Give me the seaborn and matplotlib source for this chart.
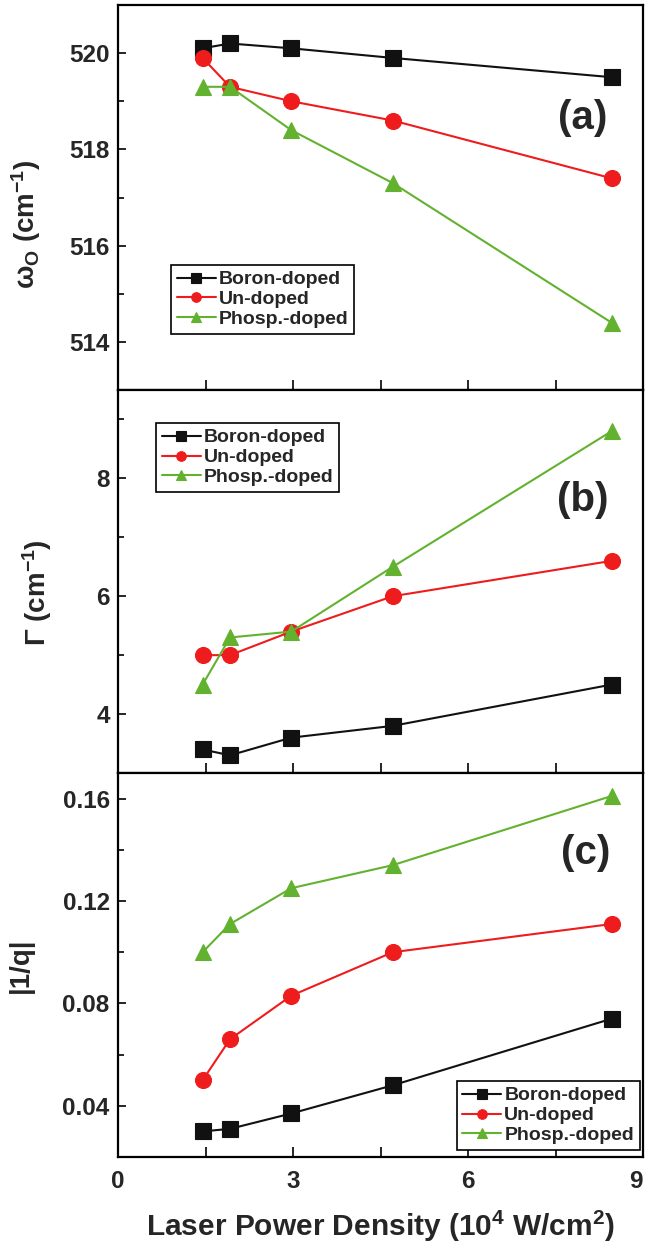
import numpy as np
import pandas as pd
import matplotlib
matplotlib.use("Agg")
import matplotlib.pyplot as plt
from matplotlib.ticker import MultipleLocator, FormatStrFormatter
import seaborn as sns

# ---------------- data ----------------
power = [1.45, 1.92, 2.97, 4.71, 8.46]
series = ["Boron-doped", "Un-doped", "Phosp.-doped"]

omega_boron = [520.1, 520.2, 520.1, 519.9, 519.5]
omega_un = [519.9, 519.3, 519.0, 518.6, 517.4]
omega_phos = [519.3, 519.3, 518.4, 517.3, 514.4]

gamma_boron = [3.4, 3.3, 3.6, 3.8, 4.5]
gamma_un = [5.0, 5.0, 5.4, 6.0, 6.6]
gamma_phos = [4.5, 5.3, 5.4, 6.5, 8.8]

invq_boron = [0.030, 0.031, 0.037, 0.048, 0.074]
invq_un = [0.050, 0.066, 0.083, 0.100, 0.111]
invq_phos = [0.100, 0.111, 0.125, 0.134, 0.161]

x_ticks = [0, 3, 6, 9]

# ---------------- style ----------------
sns.set_style("ticks")
plt.rcParams["font.family"] = ["Liberation Sans", "DejaVu Sans"]
plt.rcParams["font.weight"] = "bold"
plt.rcParams["mathtext.fontset"] = "custom"
plt.rcParams["mathtext.rm"] = "Liberation Sans:bold"
plt.rcParams["mathtext.it"] = "Liberation Sans:bold"
plt.rcParams["mathtext.bf"] = "Liberation Sans:bold"
plt.rcParams["axes.linewidth"] = 1.6

colors = {"Boron-doped": "#111111", "Un-doped": "#ee1c1c", "Phosp.-doped": "#63b22f"}
markers = {"Boron-doped": "s", "Un-doped": "o", "Phosp.-doped": "^"}
msize = {"Boron-doped": 11, "Un-doped": 11.5, "Phosp.-doped": 12}

fig = plt.figure(figsize=(6.47, 12.49), dpi=100)
W, H = 647, 1249
left_px, right_px = 118, 643
panels_px = [(5, 390), (390, 773), (773, 1157)]
axes = []
for top, bot in panels_px:
    ax = fig.add_axes([left_px / W, 1 - bot / H, (right_px - left_px) / W, (bot - top) / H])
    axes.append(ax)

datasets = [
    [omega_boron, omega_un, omega_phos],
    [gamma_boron, gamma_un, gamma_phos],
    [invq_boron, invq_un, invq_phos],
]
ylims = [(513, 521), (3.0, 9.5), (0.02, 0.17)]
ymajor = [2, 2, 0.04]
yminor = [1, 1, 0.02]
ylabels = [r"$\omega_{\mathrm{O}}$ (cm$^{\mathbf{-1}}$)", r"$\Gamma$ (cm$^{\mathbf{-1}}$)", "|1/q|"]
ylab_x = [-0.143, -0.122, -0.16]
ylab_y = [0.43, 0.47, 0.5]
panel_tags = ["(a)", "(b)", "(c)"]
tag_pos = [(0.886, 0.706), (0.886, 0.713), (0.891, 0.792)]
leg_cfg = [
    dict(loc="upper left", bbox_to_anchor=(0.101, 0.325)),
    dict(loc="upper left", bbox_to_anchor=(0.072, 0.914)),
    dict(loc="lower right", bbox_to_anchor=(0.994, 0.018)),
]

for i, ax in enumerate(axes):
    for name, vals in zip(series, datasets[i]):
        df = pd.DataFrame({"x": power, "y": vals})
        sns.lineplot(data=df, x="x", y="y", ax=ax, color=colors[name],
                     marker=markers[name], markersize=msize[name],
                     markeredgecolor=colors[name], markeredgewidth=0.8,
                     linewidth=1.5, label=name, sort=False)
    ax.set_xlim(0, 9)
    ax.set_ylim(*ylims[i])
    ax.xaxis.set_major_locator(MultipleLocator(3))
    ax.xaxis.set_minor_locator(MultipleLocator(1.5))
    ax.yaxis.set_major_locator(MultipleLocator(ymajor[i]))
    ax.yaxis.set_minor_locator(MultipleLocator(yminor[i]))
    ax.tick_params(axis="both", which="both", direction="in", top=False, right=False,
                   labelsize=17.5, width=1.4)
    ax.tick_params(axis="y", which="major", length=6, pad=6)
    ax.tick_params(axis="y", which="minor", length=4)
    ax.tick_params(axis="x", which="major", length=7, pad=9)
    ax.tick_params(axis="x", which="minor", length=7)
    for lbl in ax.get_yticklabels():
        lbl.set_fontweight("bold")
    if i == 2:
        ax.set_xticks(x_ticks)
        ax.set_xticklabels([str(t) for t in x_ticks], fontweight="bold", fontsize=17.5)
        ax.get_xticklabels()[-1].set_horizontalalignment("right")
        ax.set_xlabel("Laser Power Density (10$^{\\mathbf{4}}$ W/cm$^{\\mathbf{2}}$)",
                      fontsize=21.5, fontweight="bold", labelpad=12)
    else:
        ax.set_xlabel("")
        ax.tick_params(axis="x", labelbottom=False)
    if ylims[i][1] < 1:
        ax.yaxis.set_major_formatter(FormatStrFormatter("%.2f"))
    ax.set_ylabel(ylabels[i], fontsize=20, fontweight="bold")
    ax.yaxis.set_label_coords(ylab_x[i], ylab_y[i])
    ax.text(tag_pos[i][0], tag_pos[i][1], panel_tags[i], transform=ax.transAxes,
            fontsize=29, fontweight="bold", ha="center", va="center")
    leg = ax.legend(prop={"size": 14, "weight": "bold"}, frameon=True, fancybox=False,
                    edgecolor="black", framealpha=1, borderaxespad=0, markerscale=0.6,
                    handlelength=2.0, handletextpad=0.15, labelspacing=0.12,
                    borderpad=0.3, **leg_cfg[i])
    leg.get_frame().set_linewidth(1.2)
    for sp in ax.spines.values():
        sp.set_linewidth(1.6)
        sp.set_color("black")

fig.savefig("out.png", dpi=100)
